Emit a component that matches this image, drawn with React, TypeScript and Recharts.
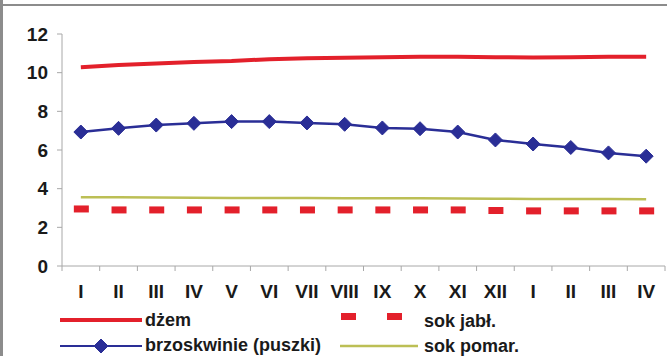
import { ComposedChart, Line, XAxis, YAxis, Legend } from "recharts";

const months = ["I", "II", "III", "IV", "V", "VI", "VII", "VIII", "IX", "X", "XI", "XII", "I", "II", "III", "IV"];
const dzem = [10.28, 10.4, 10.47, 10.55, 10.6, 10.7, 10.75, 10.77, 10.8, 10.82, 10.82, 10.8, 10.78, 10.8, 10.82, 10.82];
const brzoskwinie = [6.93, 7.12, 7.29, 7.38, 7.47, 7.47, 7.4, 7.33, 7.14, 7.1, 6.93, 6.52, 6.31, 6.13, 5.85, 5.68];
const sokJabl = [2.95, 2.9, 2.9, 2.9, 2.9, 2.9, 2.9, 2.9, 2.9, 2.9, 2.9, 2.87, 2.85, 2.85, 2.85, 2.85];
const sokPomar = [3.56, 3.55, 3.54, 3.53, 3.52, 3.52, 3.52, 3.51, 3.5, 3.5, 3.49, 3.48, 3.47, 3.46, 3.46, 3.45];
const yTicks = [0, 2, 4, 6, 8, 10, 12];

const data = months.map((m, i) => ({
  key: `${m}-${i}`,
  month: m,
  dzem: dzem[i],
  brzoskwinie: brzoskwinie[i],
  sokJabl: sokJabl[i],
  sokPomar: sokPomar[i],
}));

const FONT = "'Liberation Sans', Arial, sans-serif";
const RED = "#e3202b";
const BLUE = "#2a2e96";
const OLIVE = "#bcbf55";
const AXIS = "#a8a8a8";

const Diamond = ({ cx, cy }: any) => {
  if (cx == null || cy == null) return null;
  const r = 7;
  return (
    <polygon
      points={`${cx},${cy - r} ${cx + r},${cy} ${cx},${cy + r} ${cx - r},${cy}`}
      fill={BLUE}
      stroke={BLUE}
    />
  );
};

const Dash = ({ cx, cy }: any) => {
  if (cx == null || cy == null) return null;
  return <rect x={cx - 7} y={cy - 3.5} width={15} height={7} fill={RED} />;
};

const XTick = ({ x, y, payload, index, visibleTicksCount }: any) => {
  const half = payload?.offset || 18.85;
  const axisY = y - 19;
  const label = String(payload.value).split("-")[0];
  return (
    <g>
      <line x1={x - half} x2={x - half} y1={axisY} y2={axisY + 5} stroke={AXIS} />
      {index === (visibleTicksCount ?? months.length) - 1 && (
        <line x1={x + half} x2={x + half} y1={axisY} y2={axisY + 5} stroke={AXIS} />
      )}
      <text x={x} y={y} dy="0.71em" textAnchor="middle" fontSize={19} fontWeight="bold" fill="#1a1a1a" fontFamily={FONT}>
        {label}
      </text>
    </g>
  );
};

const LegendBox = () => {
  const text = {
    position: "absolute" as const,
    fontSize: 18,
    fontWeight: "bold" as const,
    color: "#1a1a1a",
    fontFamily: FONT,
    lineHeight: "18px",
    whiteSpace: "nowrap" as const,
  };
  return (
    <div style={{ position: "relative", width: 667, height: 49 }}>
      <svg width={667} height={49} style={{ position: "absolute", left: 0, top: 0 }}>
        <line x1={60} x2={142} y1={13} y2={13} stroke={RED} strokeWidth={4} />
        <rect x={341} y={6} width={15} height={7} fill={RED} />
        <rect x={387} y={6} width={15} height={7} fill={RED} />
        <line x1={60} x2={142} y1={39} y2={39} stroke={BLUE} strokeWidth={2} />
        <Diamond cx={101} cy={39} />
        <line x1={340} x2={418} y1={39} y2={39} stroke={OLIVE} strokeWidth={2.5} />
      </svg>
      <span style={{ ...text, left: 145, top: 4 }}>dżem</span>
      <span style={{ ...text, left: 424, top: 5 }}>sok jabł.</span>
      <span style={{ ...text, left: 145, top: 29 }}>brzoskwinie (puszki)</span>
      <span style={{ ...text, left: 424, top: 30 }}>sok pomar.</span>
    </div>
  );
};

export default function App() {
  return (
    <div style={{ position: "absolute", left: 0, top: 0, width: 667, height: 356, background: "#fff", overflow: "hidden" }}>
      <div style={{ position: "absolute", left: 0, top: 0, width: 3, height: 356, background: "#8c8c8c" }} />
      <div style={{ position: "absolute", left: 0, top: 4, width: 667, height: 2, background: "#8c8c8c" }} />
      <ComposedChart
        width={667}
        height={356}
        data={data}
        margin={{ top: 34, right: 2, bottom: 0, left: 0 }}
      >
        <XAxis
          dataKey="key"
          scale="band"
          height={41}
          axisLine={{ stroke: AXIS }}
          tickLine={false}
          interval={0}
          tick={<XTick />}
          tickMargin={13}
        />
        <YAxis
          domain={[0, 12]}
          ticks={yTicks}
          width={62}
          axisLine={{ stroke: AXIS }}
          tickLine={{ stroke: AXIS }}
          tickSize={5}
          tickMargin={9}
          tick={{ fontSize: 19, fontWeight: "bold", fill: "#1a1a1a", fontFamily: FONT }}
        />
        <Legend content={<LegendBox />} wrapperStyle={{ position: "absolute", left: 0, top: 307, width: 667 }} />
        <Line dataKey="sokPomar" name="sok pomar." stroke={OLIVE} strokeWidth={2.5} dot={false} isAnimationActive={false} />
        <Line dataKey="sokJabl" name="sok jabł." stroke="none" dot={<Dash />} activeDot={false} isAnimationActive={false} />
        <Line dataKey="brzoskwinie" name="brzoskwinie (puszki)" stroke={BLUE} strokeWidth={2.5} dot={<Diamond />} isAnimationActive={false} />
        <Line dataKey="dzem" name="dżem" stroke={RED} strokeWidth={4} dot={false} isAnimationActive={false} />
      </ComposedChart>
    </div>
  );
}
